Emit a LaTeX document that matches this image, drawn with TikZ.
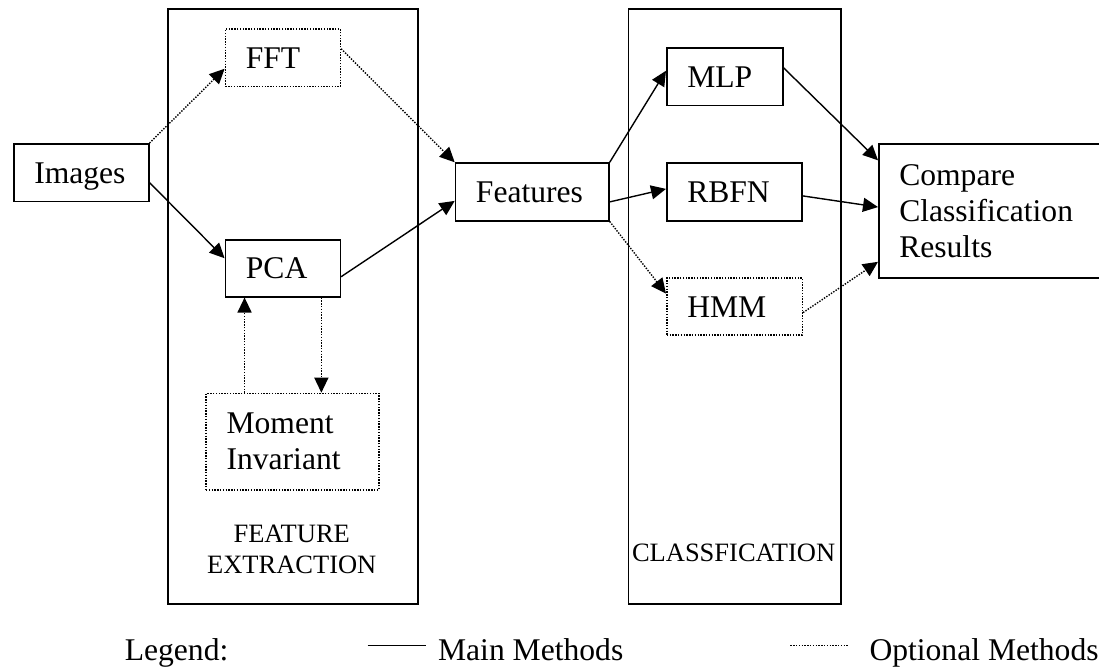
\documentclass[tikz,border=0pt]{standalone}
\usepackage{fontspec}
\setmainfont{Liberation Serif}
\usetikzlibrary{arrows.meta}
\begin{document}
\begin{tikzpicture}[x=1pt,y=-1pt,
  bigfont/.style={font=\fontsize{31.6}{36.3}\selectfont},
  smallfont/.style={font=\fontsize{26.5}{30.5}\selectfont},
  basebox/.style={line width=1.5pt, anchor=north west, inner xsep=20.5pt, inner ysep=0pt, align=left, bigfont},
  onebox/.style={basebox, text height=21pt, text depth=0pt},
  mainbox/.style={draw},
  optbox/.style={draw, dash pattern=on 1.4pt off 1.4pt},
  bigbox/.style={draw, line width=1.8pt, anchor=north west, inner sep=0pt},
  mainarrow/.style={line width=1.4pt, -{Triangle[length=15pt,width=14pt]}},
  optarrow/.style={line width=1.4pt, dash pattern=on 1.4pt off 1.4pt, -{Triangle[length=15pt,width=14pt]}},
  legtext/.style={bigfont, anchor=base west, inner sep=0pt}
]
\useasboundingbox (0,0) rectangle (1099,667);
\clip (0,0) rectangle (1099,667);

% group boxes
\node[bigbox, minimum width=250.1pt, minimum height=595pt] (fe) at (166.7,8.3) {};
\node[bigbox, minimum width=212.3pt, minimum height=595pt] (cl) at (627.5,8.3) {};

% method boxes
\node[onebox, mainbox, text width=94pt, minimum height=57.7pt] (img) at (13,143) {Images};
\node[onebox, optbox, text width=74pt, minimum height=57.4pt] (fft) at (224.6,28.3) {FFT};
\node[onebox, mainbox, text width=74pt, minimum height=57pt] (pca) at (224.6,239) {PCA};
\node[basebox, optbox, text width=132pt, minimum height=96.3pt] (mom) at (205.3,392.7) {Moment\\Invariant};
\node[onebox, mainbox, text width=112.5pt, minimum height=57.7pt] (feat) at (454.7,162.3) {Features};
\node[onebox, mainbox, text width=75pt, minimum height=57.4pt] (mlp) at (666,47.3) {MLP};
\node[onebox, mainbox, text width=94.2pt, minimum height=57.7pt] (rbfn) at (666,162.3) {RBFN};
\node[onebox, optbox, text width=94.6pt, minimum height=57pt] (hmm) at (666,277.3) {HMM};
\node[basebox, mainbox, text width=184pt, minimum height=134pt] (cmp) at (878,143.3) {Compare\\Classification\\Results};

% group labels
\node[smallfont, align=center, anchor=north, inner sep=0pt] (felab) at (291.7,524.8) {FEATURE\\EXTRACTION};
\node[smallfont, anchor=base, inner sep=0pt] (cllab) at (733.6,561.7) {CLASSFICATION};

% connectors
\draw[optarrow] (img.north east) -- ([yshift=-11pt]fft.west);
\draw[mainarrow] ([yshift=-10pt]img.east) -- ([yshift=10pt]pca.west);
\draw[optarrow] ([yshift=9pt]fft.east) -- (feat.north west);
\draw[mainarrow] ([yshift=-8.5pt]pca.east) -- ([yshift=-9pt]feat.west);
\coordinate (upx) at ([xshift=-38.3pt]pca.south);
\coordinate (dnx) at ([xshift=38.5pt]pca.south);
\draw[optarrow] (upx |- mom.north) -- (upx);
\draw[optarrow] (dnx) -- (dnx |- mom.north);
\draw[mainarrow] (feat.north east) -- ([yshift=6pt]mlp.west);
\draw[mainarrow] ([yshift=-10pt]feat.east) -- ([yshift=3pt]rbfn.west);
\draw[optarrow] (feat.south east) -- ([yshift=13pt]hmm.west);
\draw[mainarrow] ([yshift=9pt]mlp.east) -- ([yshift=-17pt]cmp.north west);
\draw[mainarrow] ([yshift=-4pt]rbfn.east) -- ([yshift=4pt]cmp.west);
\draw[optarrow] ([yshift=-6pt]hmm.east) -- ([yshift=17pt]cmp.south west);

% legend
\node[legtext] (leg) at (124.6,660) {Legend:};
\coordinate (ms) at (367.7,645.7);
\coordinate (me) at (426.3,645.7);
\draw[line width=1.5pt] (ms) -- (me);
\node[legtext] (mainlab) at (437.9,660) {Main Methods};
\coordinate (os) at (790.4,645.7);
\coordinate (oe) at (848.2,645.7);
\draw[line width=1.5pt, dash pattern=on 1.4pt off 1.4pt] (os) -- (oe);
\node[legtext] (optlab) at (869.3,660) {Optional Methods};
\end{tikzpicture}
\end{document}
